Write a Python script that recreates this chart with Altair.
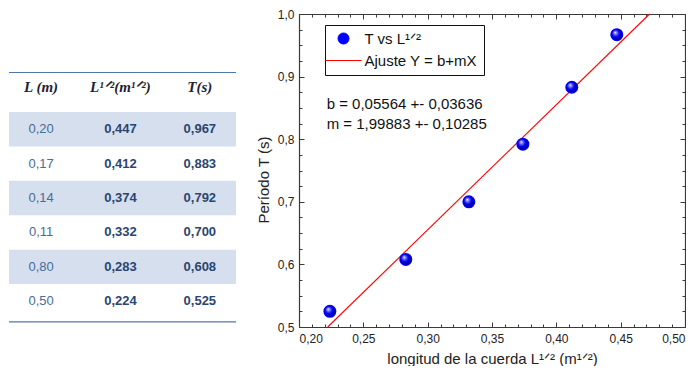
import altair as alt
import pandas as pd

# ---------------- data ----------------
# table (left)
col_keys = ["L", "Lh", "T"]
headers = ["L (m)", "L¹ᐟ²(m¹ᐟ²)", "T(s)"]
L_m_txt = ["0,20", "0,17", "0,14", "0,11", "0,80", "0,50"]
L_half_txt = ["0,447", "0,412", "0,374", "0,332", "0,283", "0,224"]
T_txt = ["0,967", "0,883", "0,792", "0,700", "0,608", "0,525"]

# scatter (right)
L_half = [0.447, 0.412, 0.374, 0.332, 0.283, 0.224]
T_s = [0.967, 0.883, 0.792, 0.700, 0.608, 0.525]

series_names = ["T vs L¹ᐟ²", "Ajuste Y = b+mX"]

fit_b, fit_db = 0.05564, 0.03636
fit_m, fit_dm = 1.99883, 0.10285
annotations = [
    "b = 0,05564 +- 0,03636",
    "m = 1,99883 +- 0,10285",
]

x_major = [0.20, 0.25, 0.30, 0.35, 0.40, 0.45, 0.50]
y_major = [0.5, 0.6, 0.7, 0.8, 0.9, 1.0]
x_minor = [round(0.20 + 0.01 * i, 3) for i in range(31)]
y_minor = [round(0.5 + 0.025 * i, 4) for i in range(21)]

FONT = "Liberation Sans"

# ---------------- table ----------------
rows = list(range(1, len(L_m_txt) + 1))
cells = []
for r, a, b, c in zip(rows, L_m_txt, L_half_txt, T_txt):
    cells.append({"row": r, "col": "L", "text": a})
    cells.append({"row": r, "col": "Lh", "text": b})
    cells.append({"row": r, "col": "T", "text": c})
cells_df = pd.DataFrame(cells)
hdr_df = pd.DataFrame({"row": [0, 0, 0], "col": col_keys, "text": headers})
shade_df = pd.DataFrame({"y0": [r - 0.5 for r in rows[::2]], "y1": [r + 0.5 for r in rows[::2]]})
rule_df = pd.DataFrame({"y": [-0.65, len(rows) + 0.6]})

ysc_t = alt.Scale(domain=[-2.35, 7.65], reverse=True)
xsc_t = alt.Scale(domain=col_keys, type="point", padding=0.43, align=0.47)

t_shade = alt.Chart(shade_df).mark_rect(color="#d6dfee").encode(
    y=alt.Y("y0:Q", scale=ysc_t, axis=None), y2="y1:Q"
)
t_rules = alt.Chart(rule_df).mark_rule(color="#5077ad", strokeWidth=1.2).encode(
    y=alt.Y("y:Q", scale=ysc_t, axis=None)
)
t_col0 = alt.Chart(cells_df[cells_df.col == "L"]).mark_text(
    font=FONT, fontSize=13, color="#4a6b95"
).encode(
    x=alt.X("col:N", scale=xsc_t, axis=None),
    y=alt.Y("row:Q", scale=ysc_t, axis=None),
    text="text:N",
)
t_bold = alt.Chart(cells_df[cells_df.col != "L"]).mark_text(
    font=FONT, fontSize=13, fontWeight="bold", color="#2b4571"
).encode(
    x=alt.X("col:N", scale=xsc_t, axis=None),
    y=alt.Y("row:Q", scale=ysc_t, axis=None),
    text="text:N",
)
t_hdr = alt.Chart(hdr_df).mark_text(
    font="Liberation Serif", fontSize=15, fontWeight="bold", fontStyle="italic",
    color="#1e2230", dy=-8,
).encode(
    x=alt.X("col:N", scale=xsc_t, axis=None),
    y=alt.Y("row:Q", scale=ysc_t, axis=None),
    text="text:N",
)
table = alt.layer(t_shade, t_rules, t_col0, t_bold, t_hdr).properties(width=227, height=344)

# ---------------- scatter plot ----------------
W, H = 386, 313
pts_df = pd.DataFrame({"x": L_half, "y": T_s, "serie": series_names[0]})
x_lo = (0.5 - fit_b) / fit_m
x_hi = (1.0 - fit_b) / fit_m
fit_df = pd.DataFrame({
    "x": [x_lo, x_hi],
    "y": [fit_b + fit_m * x_lo, fit_b + fit_m * x_hi],
    "serie": series_names[1],
})
ann_df = pd.DataFrame({"x": [0.2215, 0.2215], "y": [0.8556, 0.8238], "text": annotations})

xs = alt.Scale(domain=[0.2, 0.5], nice=False, zero=False)
ys = alt.Scale(domain=[0.5, 1.0], nice=False, zero=False)

AX = "#3a3a3a"
x_tick_size = {"condition": {"test": "abs(datum.value*20 - round(datum.value*20)) < 0.001", "value": 5}, "value": 3}
y_tick_size = {"condition": {"test": "abs(datum.value*10 - round(datum.value*10)) < 0.001", "value": 5}, "value": 3}

x_label_axis = alt.Axis(
    orient="bottom", values=x_major, labelExpr="replace(format(datum.value, '.2f'), '.', ',')",
    ticks=False, domain=False, grid=False, labelFontSize=12, labelFont=FONT, labelColor="#222",
    labelPadding=6, title="longitud de la cuerda L¹ᐟ² (m¹ᐟ²)", titleFontSize=15, titleFont=FONT,
    titleFontWeight="normal", titleColor="#222", titlePadding=7,
)
y_label_axis = alt.Axis(
    orient="left", values=y_major, labelExpr="replace(format(datum.value, '.1f'), '.', ',')",
    ticks=False, domain=False, grid=False, labelFontSize=12, labelFont=FONT, labelColor="#222",
    labelPadding=5, title="Período T (s)", titleFontSize=15, titleFont=FONT,
    titleFontWeight="normal", titleColor="#222", titlePadding=6, titleY=H / 2 + 9,
)

def tick_axis(orient, offset, values, size):
    return alt.Axis(
        orient=orient, offset=offset, values=values, labels=False, title="",
        grid=False, domain=True, domainColor=AX, domainWidth=1.2,
        ticks=True, tickColor=AX, tickWidth=1, tickSize=size,
    )

SPACING = 19
PLOT_LEFT = 227 + SPACING + 44  # table width + spacing + left axis extent

legend_names = series_names
leg = alt.Legend(
    title=None, orient="none", legendX=PLOT_LEFT + 26, legendY=11,
    strokeColor="#111", fillColor="white", padding=6,
    labelFont=FONT, labelFontSize=15, labelColor="#111", labelOffset=13.5,
    symbolStrokeWidth=1, symbolSize=121, symbolOffset=5, rowPadding=6,
)
color_scale = alt.Scale(domain=legend_names, range=["#0000ff", "#ff0000"])

line = alt.Chart(fit_df).mark_line(strokeWidth=1.1).encode(
    x=alt.X("x:Q", scale=xs, axis=tick_axis("bottom", -H, x_minor, x_tick_size)),
    y=alt.Y("y:Q", scale=ys, axis=tick_axis("left", -W, y_minor, y_tick_size)),
    stroke=alt.Stroke("serie:N", scale=color_scale, legend=leg),
)

pts_leg = alt.Chart(pts_df).mark_point(filled=True, opacity=1, size=121).encode(
    x=alt.X("x:Q", scale=xs, axis=x_label_axis),
    y=alt.Y("y:Q", scale=ys, axis=y_label_axis),
    fill=alt.Fill("serie:N", scale=color_scale, legend=leg),
    stroke=alt.Stroke("serie:N", scale=color_scale, legend=leg),
    shape=alt.Shape("serie:N", scale=alt.Scale(domain=legend_names, range=["circle", "M-3.3,0H3.3"]), legend=leg),
)

ball = alt.RadialGradient(
    gradient="radial",
    stops=[
        alt.GradientStop(offset=0, color="#ffffff"),
        alt.GradientStop(offset=0.22, color="#7b7bff"),
        alt.GradientStop(offset=0.55, color="#0000f0"),
        alt.GradientStop(offset=1, color="#000090"),
    ],
    x1=0.35, y1=0.3, r1=0, x2=0.45, y2=0.45, r2=0.6,
)
pts_ball = alt.Chart(pts_df).mark_point(
    filled=True, fill=ball, opacity=1, size=125, shape="circle", strokeWidth=0
).encode(
    x=alt.X("x:Q", scale=xs, axis=tick_axis("top", -H, x_minor, x_tick_size)),
    y=alt.Y("y:Q", scale=ys, axis=tick_axis("right", -W, y_minor, y_tick_size)),
)

ann = alt.Chart(ann_df).mark_text(align="left", font=FONT, fontSize=15, color="#111").encode(
    x=alt.X("x:Q", scale=xs, axis=None),
    y=alt.Y("y:Q", scale=ys, axis=None),
    text="text:N",
)

plot = alt.layer(line, pts_leg, pts_ball, ann).resolve_axis(
    x="independent", y="independent"
).properties(width=W, height=H)

chart = alt.hconcat(table, plot, spacing=SPACING).properties(padding=0).configure_view(strokeWidth=0)

chart.save("out.html", embed_options={"renderer": "svg", "actions": False})
